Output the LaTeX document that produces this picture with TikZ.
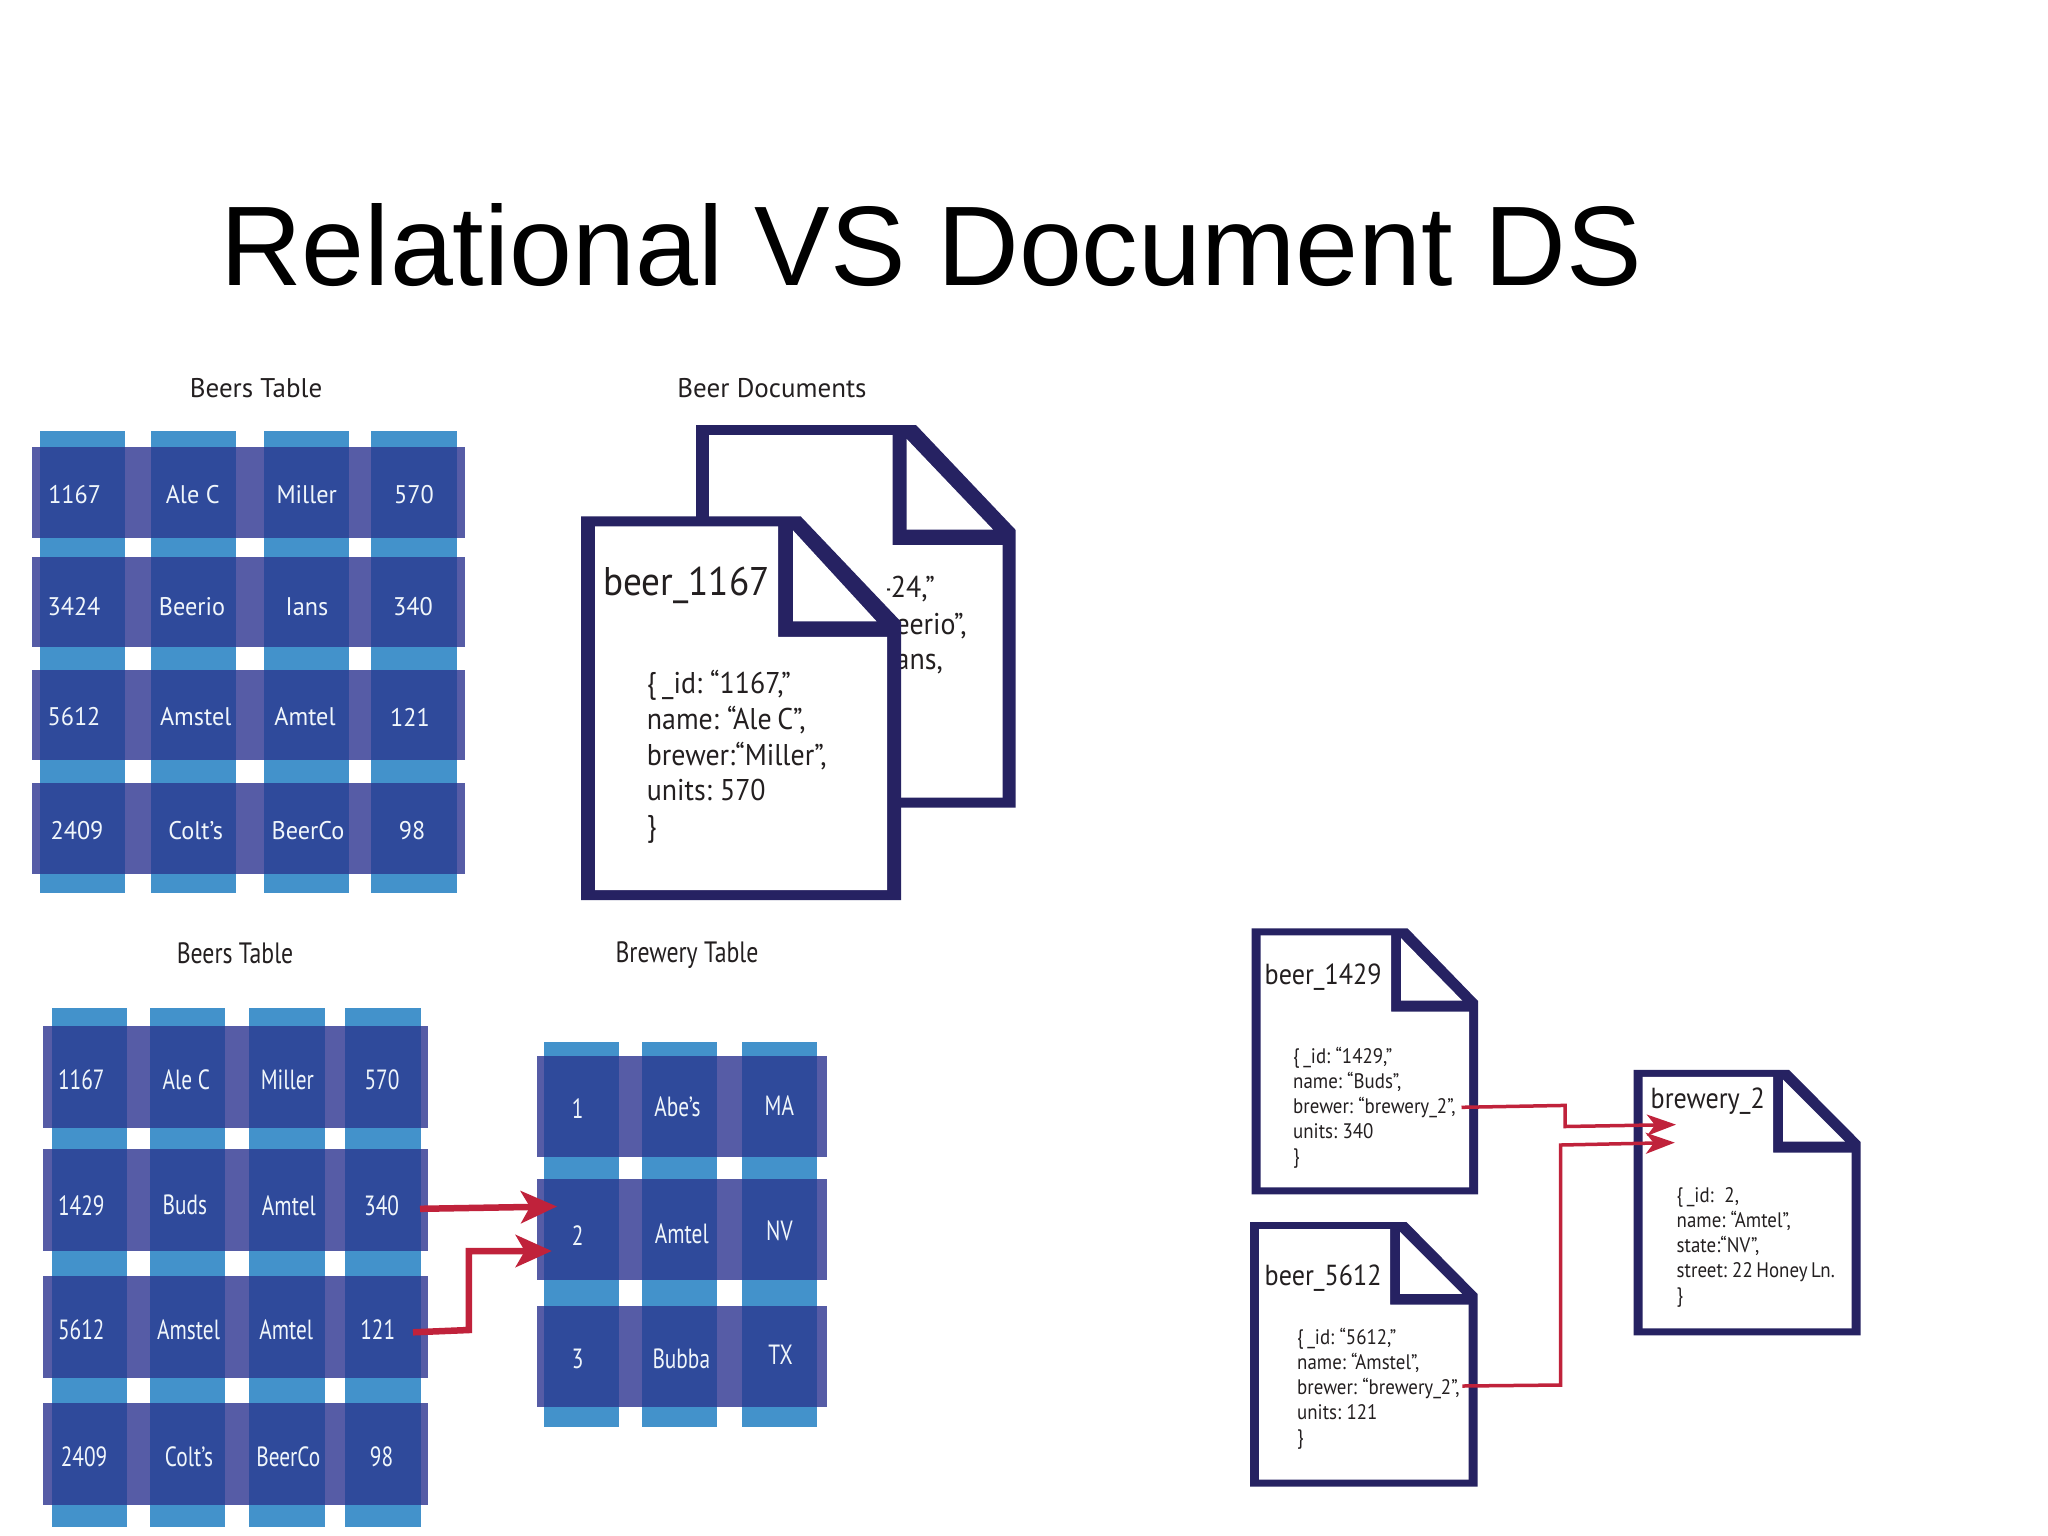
\documentclass[tikz,border=0pt]{standalone}
\usepackage{graphicx}
\usepackage{fontspec}
\setmainfont{PT Sans}
\newfontfamily\titlefont{Liberation Sans}
\newfontfamily\docfont[FakeStretch=0.93,WordSpace=0.75]{PT Sans}
\newfontfamily\smalldocfont[FakeStretch=0.9,WordSpace=0.7]{PT Sans}
\newfontfamily\cellfont[FakeStretch=0.95]{PT Sans}
\usetikzlibrary{arrows.meta}
\definecolor{colblue}{HTML}{4392CB}
\definecolor{rowblue}{HTML}{565CA6}
\definecolor{crossblue}{HTML}{2F4A9B}
\definecolor{docnavy}{HTML}{262262}
\definecolor{linkred}{HTML}{C0223B}
\definecolor{inkgray}{HTML}{231F20}
\newcommand\fsz[1]{\fontsize{#1}{#1}\selectfont}
\newcommand\fbody[2]{\fontsize{#1}{#2}\selectfont}
\newcommand\slim[1]{\scalebox{0.88}[1.09]{#1}}
\tikzset{
  x=1pt,y=-1pt,
  colbar/.style={fill=colblue},
  rowbar/.style={fill=rowblue},
  crossbar/.style={fill=crossblue},
  docframe/.style={fill=docnavy},
  docpaper/.style={fill=white},
  celltext/.style={text=white!92!colblue,inner sep=0pt,font=\cellfont\fsz{25.5}},
  heading/.style={text=inkgray,inner sep=0pt,font=\fsz{27}},
  doctitle/.style={text=inkgray,inner sep=0pt,anchor=west},
  docbody/.style={text=inkgray,inner sep=0pt,anchor=west,align=left},
  backtext/.style={text=inkgray,inner sep=0pt,anchor=east,font=\docfont\fsz{30}},
  biglink/.style={draw=linkred,line width=6.5pt,-{Stealth[length=36pt,width=32pt,inset=9pt]}},
  thinlink/.style={draw=linkred,line width=3.5pt,-{Stealth[length=29pt,width=21pt,inset=8pt]}},
}
\newcommand\tablegrid[6]{%
  \foreach \a/\b in {#1} \fill[colbar] (\a,#5) rectangle (\b,#6);
  \foreach \c/\d in {#2} {
    \fill[rowbar] (#3,\c) rectangle (#4,\d);
    \foreach \a/\b in {#1} \fill[crossbar] (\a,\c) rectangle (\b,\d);
  }}
% L T R B topRightX barLeft foldBottom tx ty
\newcommand\docsheet[9]{%
  \fill[docframe] (#1,#2) -- (#5,#2) -- (#3,{#7-1.5*#9}) -- (#3,#4) -- (#1,#4) -- cycle;
  \fill[docpaper] ({#1+#8},{#2+#9}) -- (#6,{#2+#9}) -- (#6,#7) -- ({#3-#8},#7) -- ({#3-#8},{#4-#9}) -- ({#1+#8},{#4-#9}) -- cycle;
  \fill[docpaper] ({#6+#8+1},{#2+1.4*#9}) -- ({#3-1.75*#8},{#7-1.55*#9}) -- ({#6+#8+1},{#7-1.55*#9}) -- cycle;
}
\begin{document}
\begin{tikzpicture}
\useasboundingbox[fill=white] (0,0) rectangle (2048,1535);

\node[inner sep=0pt,anchor=base west,font=\titlefont\fsz{113.2}] (title) at (220,285) {Relational VS Document DS};

% ---------- top left table
\node[heading] (headA) at (256,388) {Beers Table};
\tablegrid{40.3/125.3,151.3/236.3,263.7/348.7,371.3/456.7}{446.8/537.5,556.8/647,670/760,783/873.6}{32}{465}{431.4}{893}
\foreach \n/\x/\y/\t in {
  a11/74.7/495/1167, a12/192.7/495/Ale C, a13/306.7/495/Miller, a14/414/495/570,
  a21/74/606.4/3424, a22/192/606.4/Beerio, a23/307/606.4/Ians, a24/413/606.4/340,
  a31/74/717/5612, a32/195.7/717/Amstel, a33/305/717/Amtel, a34/410/717/121,
  a41/77/830.7/2409, a42/195.7/830.7/Colt’s, a43/308/830.7/BeerCo, a44/412/830.7/98}
  \node[celltext] (\n) at (\x,\y) {\t};

% ---------- beer documents
\node[heading] (headB) at (772,388) {Beer Documents};
\docsheet{696}{425}{1015.7}{807.5}{916}{892.7}{545}{13}{10}
\begin{scope}
  \clip (887,560) rectangle (1000,690);
  \node[backtext] (backA) at (935,588.6) {424,”};
  \node[backtext] (backB) at (966.7,626) {eerio”,};
  \node[backtext] (backC) at (943,664) {ans,};
\end{scope}
\docsheet{581}{516.4}{901}{900}{800.7}{778}{636.8}{14}{10}
\node[doctitle,font=\docfont\fsz{40}] (docA) at (603,585) {beer\_1167};
\node[docbody,font=\docfont\fbody{30}{35.7}] (bodyA) at (646.7,757) {\{ \_id: “1167,”\\name: “Ale C”,\\brewer:“Miller”,\\units: 570\\\}};

% ---------- bottom left tables
\node[heading] (headC) at (235,953) {\slim{Beers Table}};
\tablegrid{51.5/127,149.6/225,249.3/325.2,344.7/420.6}{1025.8/1127.7,1148.9/1250.5,1276/1377.9,1403/1504.5}{43.4}{427.6}{1008}{1526.5}
\foreach \n/\x/\y/\t in {
  b11/81.3/1079.8/1167, b12/186.4/1079.8/Ale C, b13/287.3/1079.8/Miller, b14/382/1079.8/570,
  b21/81.3/1205.3/1429, b22/184.8/1205.3/Buds, b23/288.9/1205.3/Amtel, b24/381.6/1205.3/340,
  b31/81.3/1329.6/5612, b32/188.6/1329.6/Amstel, b33/286.2/1329.6/Amtel, b34/377.8/1329.6/121,
  b41/84/1457/2409, b42/189/1457/Colt’s, b43/288.3/1457/BeerCo, b44/381.6/1457/98}
  \node[celltext] (\n) at (\x,\y) {\slim{\t}};

\node[heading] (headD) at (687,955) {\slim{Brewery Table}};
\tablegrid{544.2/619,642.3/717,742/816.8}{1056.3/1156.6,1179.4/1279.8,1306/1406.8}{536.6}{826.6}{1042}{1427}
\foreach \n/\x/\y/\t in {
  c11/577.8/1109/1, c12/677.5/1107/Abe’s, c13/779.4/1105.7/MA,
  c21/577.8/1235.8/2, c22/681.8/1234/Amtel, c23/779.4/1231/NV,
  c31/577.8/1359/3, c32/681.3/1359/Bubba, c33/780.5/1354.7/TX}
  \node[celltext] (\n) at (\x,\y) {\slim{\t}};

\coordinate (la) at (420,1208.8);
\coordinate (lb) at (557,1206.5);
\coordinate (lc) at (413,1332.3);
\coordinate (ld) at (468.8,1330);
\coordinate (le) at (468.8,1251);
\coordinate (lf) at (551.8,1251);
\draw[biglink] (la) -- (lb);
\draw[biglink,line join=miter] (lc) -- (ld) -- (le) -- (lf);

% ---------- bottom right documents
\docsheet{1251.6}{928.4}{1478}{1194.3}{1407.6}{1391}{1011.5}{9}{7}
\node[doctitle,font=\smalldocfont\fsz{29}] (docB) at (1264.5,977.5) {beer\_1429};
\node[docbody,font=\smalldocfont\fbody{21}{25}] (bodyB) at (1293,1108) {\{ \_id: “1429,”\\name: “Buds”,\\brewer: “brewery\_2”,\\units: 340\\\}};

\docsheet{1250}{1222}{1477.7}{1486.6}{1406.4}{1390}{1304.6}{9}{7}
\node[doctitle,font=\smalldocfont\fsz{29}] (docC) at (1264.5,1278) {beer\_5612};
\node[docbody,font=\smalldocfont\fbody{21}{25}] (bodyC) at (1297,1389) {\{ \_id: “5612,”\\name: “Amstel”,\\brewer: “brewery\_2”,\\units: 121\\\}};

\docsheet{1633.7}{1069.8}{1860.7}{1335.3}{1789}{1773}{1152.5}{9}{7}
\node[doctitle,font=\smalldocfont\fsz{29}] (docD) at (1650.5,1101) {brewery\_2};
\node[docbody,font=\smalldocfont\fbody{21}{25}] (bodyD) at (1676.5,1247) {\{ \_id:\ \ \ 2,\\name: “Amtel”,\\state:“NV”,\\street: 22 Honey Ln.\\\}};

\coordinate (ma) at (1461.5,1107.3);
\coordinate (mb) at (1565,1105.4);
\coordinate (mc) at (1565,1126.5);
\coordinate (md) at (1676,1124.6);
\coordinate (na) at (1462.4,1386);
\coordinate (nb) at (1560.7,1385);
\coordinate (nc) at (1560.7,1145);
\coordinate (nd) at (1674.8,1142.6);
\draw[thinlink] (ma) -- (mb) -- (mc) -- (md);
\draw[thinlink] (na) -- (nb) -- (nc) -- (nd);
\end{tikzpicture}
\end{document}
